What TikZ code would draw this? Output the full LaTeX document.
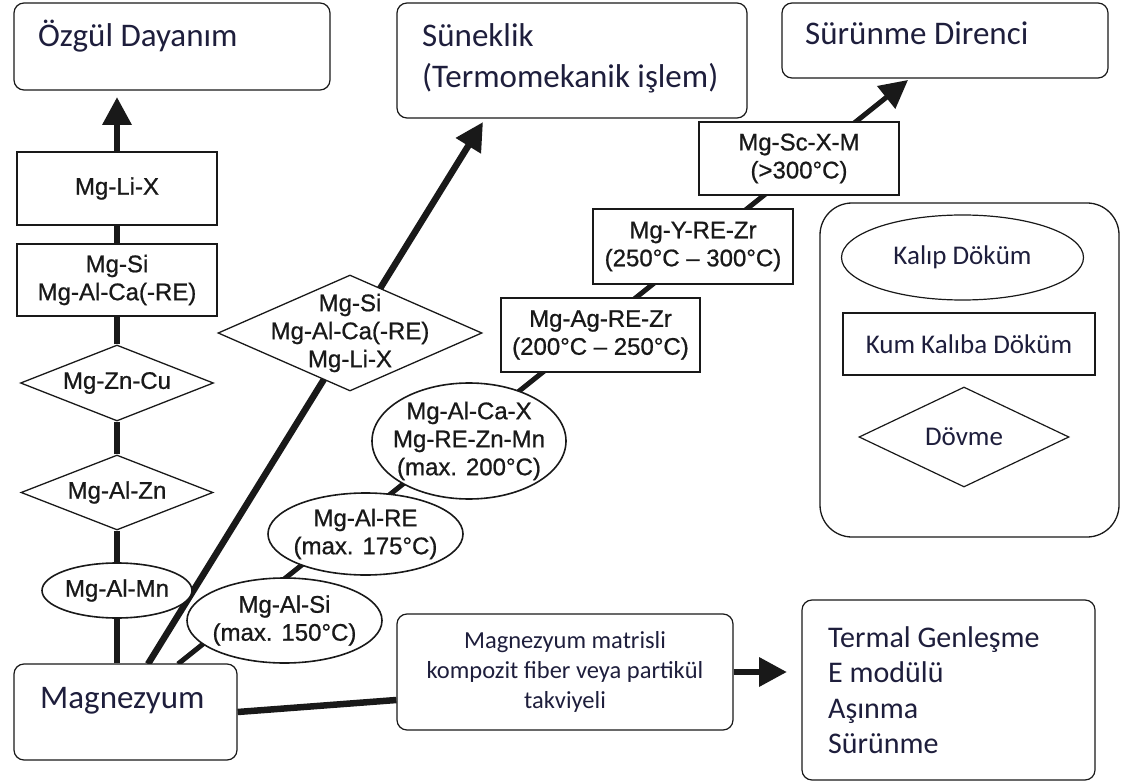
\documentclass[tikz,border=0pt]{standalone}
\usepackage{fontspec}
\setmainfont{Carlito}
\newfontfamily\arialf[FakeBold=0.8]{Liberation Sans}
\usetikzlibrary{arrows.meta,shapes.geometric,calc}
\pgfdeclarelayer{background}
\pgfsetlayers{background,main}
\definecolor{txt}{RGB}{30,30,60}
\definecolor{ink}{RGB}{25,25,25}
\begin{document}
\begin{tikzpicture}[x=1pt,y=-1pt,
  title/.style={draw=ink, line width=1.2pt, rounded corners=10pt, fill=white, inner sep=0pt},
  ttext/.style={font=\fontsize{33}{38}\selectfont, text=txt, anchor=base west, inner sep=0pt},
  mgbox/.style={draw=ink, line width=2pt, fill=white, inner sep=0pt},
  mgdia/.style={mgbox, diamond, line width=1.3pt},
  mgell/.style={mgbox, ellipse, line width=1.6pt},
  mgt/.style={font=\arialf\fontsize{24}{28}\selectfont, text=ink, align=center, inner sep=0pt},
  legt/.style={font=\fontsize{27}{30}\selectfont, text=txt, align=center, inner sep=0pt},
  conn/.style={line width=6.5pt, draw=ink},
  chainc/.style={line width=5pt, draw=ink},
  tip/.style={-{Triangle[length=28pt,width=28pt]}},
]
\useasboundingbox (0,0) rectangle (1121,783);

% title boxes
\node[title, minimum width=316pt, minimum height=87pt] (ozg) at (172,46.5) {};
\node[ttext] (ozgT) at (38,47) {Özgül Dayanım};
\node[title, minimum width=350pt, minimum height=115pt] (sun) at (572,60.5) {};
\node[ttext] (sunT1) at (422,47) {Süneklik};
\node[ttext] (sunT2) at (422,88) {(Termomekanik işlem)};
\node[title, minimum width=326pt, minimum height=75pt] (srn) at (945,40.5) {};
\node[ttext] (srnT) at (805,45) {Sürünme Direnci};

% left column
\node[mgbox, mgt, minimum width=200pt, minimum height=73pt] (mgli) at (117,188.5) {Mg-Li-X};
\node[mgbox, mgt, minimum width=200pt, minimum height=72pt] (mgsi) at (117,280) {Mg-Si\\Mg-Al-Ca(-RE)};
\node[mgdia, minimum width=193pt, minimum height=76pt, label={[mgt]center:Mg-Zn-Cu}] (zncu) at (117,383) {};
\node[mgdia, minimum width=192pt, minimum height=75pt, label={[mgt]center:Mg-Al-Zn}] (alzn) at (117,492.5) {};
\node[mgell, minimum width=150pt, minimum height=55pt, label={[mgt]center:Mg-Al-Mn}] (almn) at (117,590.5) {};
\node[title, minimum width=223pt, minimum height=96pt] (mag) at (125.5,712) {};
\node[ttext] (magT) at (40,708) {Magnezyum};

% middle diamond
\node[mgdia, minimum width=264pt, minimum height=116pt, label={[mgt]center:{Mg-Si\\Mg-Al-Ca(-RE)\\Mg-Li-X}}] (dia) at (350,333) {};

% chain
\node[mgell, minimum width=195pt, minimum height=85pt, label={[mgt]center:{Mg-Al-Si\\(max. 150°C)}}] (alsi) at (284.5,620.5) {};
\node[mgell, minimum width=195pt, minimum height=82pt, label={[mgt]center:{Mg-Al-RE\\(max. 175°C)}}] (alre) at (365.5,534) {};
\node[mgell, minimum width=194pt, minimum height=116pt, label={[mgt]center:{Mg-Al-Ca-X\\Mg-RE-Zn-Mn\\(max. 200°C)}}] (alcax) at (469,441) {};
\node[mgbox, mgt, minimum width=199pt, minimum height=74pt] (agre) at (600.5,335) {Mg-Ag-RE-Zr\\(200°C – 250°C)};
\node[mgbox, mgt, minimum width=200pt, minimum height=75pt] (yre) at (693,246.5) {Mg-Y-RE-Zr\\(250°C – 300°C)};
\node[mgbox, mgt, minimum width=200pt, minimum height=73pt] (scx) at (799,158.5) {Mg-Sc-X-M\\(>300°C)};

% composite and properties
\node[title, minimum width=336pt, minimum height=116pt, font=\fontsize{24.5}{30}\selectfont, text=txt, align=center] (comp) at (565,672) {Magnezyum matrisli\\kompozit fiber veya partikül\\takviyeli};
\node[title, minimum width=293pt, minimum height=180pt] (term) at (948.5,690) {};
\node[ttext, font=\fontsize{30}{35}\selectfont] (t1) at (828,647) {Termal Genleşme};
\node[ttext, font=\fontsize{30}{35}\selectfont] (t2) at (828,682.5) {E modülü};
\node[ttext, font=\fontsize{30}{35}\selectfont] (t3) at (828,718) {Aşınma};
\node[ttext, font=\fontsize{30}{35}\selectfont] (t4) at (828,753.5) {Sürünme};

% legend
\node[draw=ink, line width=1.3pt, rounded corners=32pt, minimum width=299pt, minimum height=334pt, inner sep=0pt] (leg) at (969.5,370) {};
\node[draw=ink, ellipse, line width=1.2pt, minimum width=242pt, minimum height=85pt, inner sep=0pt, label={[legt]center:Kalıp Döküm}] (kalip) at (962.5,257.5) {};
\node[draw=ink, line width=1.2pt, minimum width=252pt, minimum height=62pt, inner sep=0pt, legt] (kum) at (969,344) {Kum Kalıba Döküm};
\node[draw=ink, diamond, line width=1.2pt, minimum width=210pt, minimum height=100pt, inner sep=0pt, label={[legt]center:Dövme}] (dov) at (964,437) {};

% connectors
\begin{pgfonlayer}{background}
\coordinate (ozTip) at (117,97);
\coordinate (magA) at (148,664);
\coordinate (sunTip) at (483,122);
\coordinate (chA) at (178,664);
\coordinate (chTip) at (908,80);
\coordinate (tT) at (787,672);
\draw[conn] (mag.north -| almn) -- (almn);
\draw[conn] (almn) -- (alzn);
\draw[conn] (alzn) -- (zncu);
\draw[conn] (zncu) -- (mgsi);
\draw[conn] (mgsi) -- (mgli);
\draw[conn,tip] (mgli) -- (ozTip);
\draw[conn] (magA) -- ($(magA)!(dia)!(sunTip)$);
\draw[conn,tip] ($(magA)!(dia)!(sunTip)$) -- (sunTip);
\draw[chainc] (chA) -- ($(chA)!(alsi)!(chTip)$);
\draw[chainc] ($(chA)!(alsi)!(chTip)$) -- ($(chA)!(alre)!(chTip)$);
\draw[chainc] ($(chA)!(alre)!(chTip)$) -- ($(chA)!(alcax)!(chTip)$);
\draw[chainc] ($(chA)!(alcax)!(chTip)$) -- ($(chA)!(agre)!(chTip)$);
\draw[chainc] ($(chA)!(agre)!(chTip)$) -- ($(chA)!(yre)!(chTip)$);
\draw[chainc] ($(chA)!(yre)!(chTip)$) -- ($(chA)!(scx)!(chTip)$);
\draw[chainc,tip] ($(chA)!(scx)!(chTip)$) -- (chTip);
\draw[conn] (mag.east) -- ([yshift=-28pt]comp.west);
\draw[conn,tip] (comp.east) -- (tT);
\end{pgfonlayer}
\end{tikzpicture}
\end{document}
